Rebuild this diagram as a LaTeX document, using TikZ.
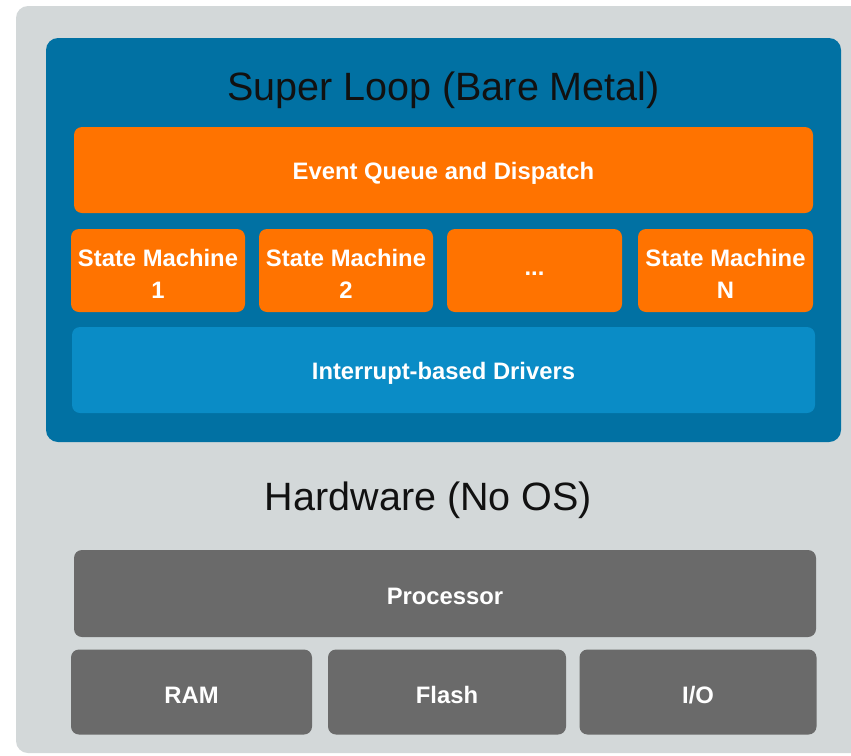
\documentclass[tikz,border=0pt]{standalone}
\usepackage{fontspec}
\setmainfont{Liberation Sans}
\definecolor{panelgray}{HTML}{D3D8D9}
\definecolor{loopblue}{HTML}{0171A3}
\definecolor{drvblue}{HTML}{0A8CC6}
\definecolor{smorange}{HTML}{FF7300}
\definecolor{hwgray}{HTML}{6A6A6A}
\definecolor{titletext}{HTML}{111111}
\tikzset{
  block/.style={rounded corners=8pt, inner sep=0pt},
  orangebox/.style={block, fill=smorange},
  drvbox/.style={block, fill=drvblue},
  hwbox/.style={block, fill=hwgray},
  blocktext/.style={inner sep=0pt, text=white, align=center,
    font=\fontsize{23.8}{32}\selectfont\bfseries},
  heading/.style={inner sep=0pt, text=titletext, font=\fontsize{39.5}{44}\selectfont},
}
\begin{document}
\begin{tikzpicture}[x=1pt, y=-1pt]
  \clip (0,0) rectangle (851,755);
  \fill[white] (0,0) rectangle (851,755);
  % outer hardware panel
  \fill[panelgray, rounded corners=12pt] (16,6) rectangle (880,753);
  % super loop panel
  \fill[loopblue, rounded corners=12pt] (46,38) rectangle (841,442);
  \node[heading] (loop) at (443.5,90) {Super Loop (Bare Metal)};

  % software blocks
  \node[orangebox, minimum width=739pt, minimum height=86pt] (queue) at (443.5,170) {};
  \node[orangebox, minimum width=174pt, minimum height=83pt] (sm1) at (158,270.5) {};
  \node[orangebox, minimum width=174pt, minimum height=83pt] (sm2) at (346,270.5) {};
  \node[orangebox, minimum width=175pt, minimum height=83pt] (smdots) at (534.5,270.5) {};
  \node[orangebox, minimum width=175pt, minimum height=83pt] (smn) at (725.5,270.5) {};
  \node[drvbox, minimum width=743pt, minimum height=86pt] (drivers) at (443.5,370) {};

  \node[blocktext] (queuetext) at ([yshift=-3pt]queue.center) {Event Queue and Dispatch};
  \node[blocktext] (sm1text) at ([yshift=-3pt]sm1.center) {State Machine\\1};
  \node[blocktext] (sm2text) at ([yshift=-3pt]sm2.center) {State Machine\\2};
  \node[blocktext] (smdotstext) at ([yshift=-3pt]smdots.center) {...};
  \node[blocktext] (smntext) at ([yshift=-3pt]smn.center) {State Machine\\N};
  \node[blocktext] (driverstext) at ([yshift=-3pt]drivers.center) {Interrupt-based Drivers};

  \node[heading] (hw) at (428.5,500) {Hardware (No OS)};

  % hardware blocks
  \node[hwbox, minimum width=742pt, minimum height=87pt] (cpu) at (445,593.5) {};
  \node[hwbox, minimum width=241pt, minimum height=85pt] (ram) at (191.5,692) {};
  \node[hwbox, minimum width=238pt, minimum height=85pt] (flash) at (447,692) {};
  \node[hwbox, minimum width=237pt, minimum height=85pt] (io) at (698,692) {};

  \node[blocktext] (cputext) at ([yshift=-3pt]cpu.center) {Processor};
  \node[blocktext] (ramtext) at ([yshift=-3pt]ram.center) {RAM};
  \node[blocktext] (flashtext) at ([yshift=-3pt]flash.center) {Flash};
  \node[blocktext] (iotext) at ([yshift=-3pt]io.center) {I/O};
\end{tikzpicture}
\end{document}
